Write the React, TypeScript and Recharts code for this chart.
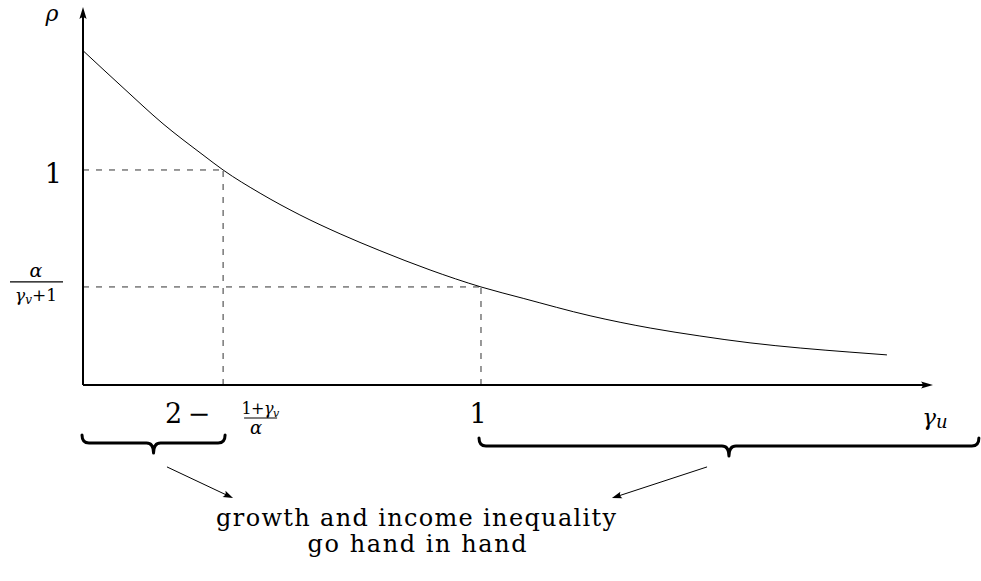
import React from 'react';
import { LineChart, Line, XAxis, YAxis, ReferenceLine, ReferenceDot } from 'recharts';

// gamma_u values (x) and rho values
const gammaU = [0, 0.1005, 0.201, 0.3015, 0.352, 0.445, 0.545, 0.646, 0.746, 0.872, 1.0, 1.106, 1.274, 1.425, 1.55, 1.676, 1.802, 1.927, 2.02];
const rhoVals = [1.555, 1.383, 1.215, 1.07, 1.0, 0.892, 0.791, 0.703, 0.625, 0.535, 0.456, 0.403, 0.322, 0.265, 0.228, 0.196, 0.172, 0.153, 0.14];
// marked points on the axes
const xMarks = [0.352, 1]; // 2 - (1+γv)/α , 1
const yMarks = [1, 0.456]; // 1 , α/(γv+1)
const axisMax = { x: 2.1357, y: 1.758 };

const data = gammaU.map((g, i) => ({ g, rho: rhoVals[i] }));

const SERIF = 'DejaVu Serif, Liberation Serif, serif';

function arrowShape(width: number, headLen: number, headHalf: number, color: string) {
  return (p: any) => {
    const { x1, y1, x2, y2 } = p;
    const dx = x2 - x1, dy = y2 - y1;
    const L = Math.hypot(dx, dy) || 1;
    const ux = dx / L, uy = dy / L;
    const nx = -uy, ny = ux;
    const bx = x2 - ux * headLen, by = y2 - uy * headLen;
    const cx = x2 - ux * headLen * 0.72, cy = y2 - uy * headLen * 0.72;
    return (
      <g>
        <line x1={x1} y1={y1} x2={cx} y2={cy} stroke={color} strokeWidth={width} />
        <path
          d={`M${x2},${y2} L${bx + nx * headHalf},${by + ny * headHalf} Q${cx},${cy} ${bx - nx * headHalf},${by - ny * headHalf} Z`}
          fill={color}
        />
      </g>
    );
  };
}

function braceShape(drop: number, depth: number, r: number) {
  return (p: any) => {
    const { x1, y1, x2 } = p;
    const y0 = y1;
    const h = y0 + drop;
    const tip = y0 + depth;
    const xm = (x1 + x2) / 2;
    const d = `M${x1},${y0} Q${x1},${h} ${x1 + r},${h} H${xm - r} Q${xm},${h} ${xm},${tip} Q${xm},${h} ${xm + r},${h} H${x2 - r} Q${x2},${h} ${x2},${y0}`;
    return <path d={d} fill="none" stroke="#000" strokeWidth={3} strokeLinecap="round" strokeLinejoin="round" />;
  };
}

function textShape(render: () => React.ReactNode) {
  return (p: any) => <g transform={`translate(${p.cx},${p.cy})`}>{render()}</g>;
}

const dash = { stroke: '#333', strokeWidth: 1, strokeDasharray: '6 7' };

export default function App() {
  return (
    <div style={{ position: 'absolute', left: 0, top: 0, width: 981, height: 581, background: '#fff' }}>
      <LineChart
        width={981}
        height={581}
        data={data}
        margin={{ top: 7, left: 83, right: 48, bottom: 196 }}
      >
        <XAxis type="number" dataKey="g" domain={[0, axisMax.x]} hide allowDataOverflow />
        <YAxis type="number" domain={[0, axisMax.y]} hide allowDataOverflow />

        {/* dashed guides */}
        <ReferenceLine segment={[{ x: 0, y: yMarks[0] }, { x: xMarks[0], y: yMarks[0] }]} {...dash} ifOverflow="visible" />
        <ReferenceLine segment={[{ x: xMarks[0], y: 0 }, { x: xMarks[0], y: yMarks[0] }]} {...dash} ifOverflow="visible" />
        <ReferenceLine segment={[{ x: 0, y: yMarks[1] }, { x: xMarks[1], y: yMarks[1] }]} {...dash} ifOverflow="visible" />
        <ReferenceLine segment={[{ x: xMarks[1], y: 0 }, { x: xMarks[1], y: yMarks[1] }]} {...dash} ifOverflow="visible" />

        <Line
          type="monotone"
          dataKey="rho"
          stroke="#000"
          strokeWidth={1}
          dot={false}
          activeDot={false}
          isAnimationActive={false}
        />

        {/* axes with arrows */}
        <ReferenceLine
          segment={[{ x: 0, y: 0 }, { x: axisMax.x, y: 0 }]}
          ifOverflow="visible"
          shape={arrowShape(2, 12, 3.6, '#000')}
        />
        <ReferenceLine
          segment={[{ x: 0, y: 0 }, { x: 0, y: axisMax.y }]}
          ifOverflow="visible"
          shape={arrowShape(2, 12, 3.6, '#000')}
        />

        {/* axis labels */}
        <ReferenceDot
          x={0}
          y={axisMax.y}
          r={0}
          ifOverflow="visible"
          shape={textShape(() => (
            <text x={-31} y={14} textAnchor="middle" fontFamily={SERIF} fontStyle="italic" fontSize={22}>ρ</text>
          ))}
        />
        <ReferenceDot
          x={axisMax.x}
          y={0}
          r={0}
          ifOverflow="visible"
          shape={textShape(() => (
            <text x={2} y={40} textAnchor="middle" fontFamily={SERIF} fontStyle="italic" fontSize={23}>
              γ<tspan fontSize={18} dy={3}>u</tspan>
            </text>
          ))}
        />

        {/* y marks */}
        <ReferenceDot
          x={0}
          y={yMarks[0]}
          r={0}
          ifOverflow="visible"
          shape={textShape(() => (
            <text x={-21} y={13} textAnchor="end" fontFamily={SERIF} fontSize={27}>1</text>
          ))}
        />
        <ReferenceDot
          x={0}
          y={yMarks[1]}
          r={0}
          ifOverflow="visible"
          shape={textShape(() => (
            <g fontFamily={SERIF}>
              <text x={-47} y={-10} textAnchor="middle" fontStyle="italic" fontSize={19}>α</text>
              <line x1={-73} x2={-20} y1={-5} y2={-5} stroke="#000" strokeWidth={1.2} />
              <text x={-47} y={14} textAnchor="middle" fontSize={17}>
                <tspan fontStyle="italic">γ</tspan>
                <tspan fontStyle="italic" fontSize={12} dy={3}>v</tspan>
                <tspan dy={-3}>+1</tspan>
              </text>
            </g>
          ))}
        />

        {/* x marks */}
        <ReferenceDot
          x={xMarks[0]}
          y={0}
          r={0}
          ifOverflow="visible"
          shape={textShape(() => (
            <g fontFamily={SERIF}>
              <text x={-41} y={38} textAnchor="end" fontSize={27}>2</text>
              <text x={-24} y={38} textAnchor="middle" fontSize={27}>−</text>
              <text x={37} y={29} textAnchor="middle" fontSize={16} letterSpacing={-0.5}>
                1+<tspan fontStyle="italic">γ</tspan>
                <tspan fontStyle="italic" fontSize={11} dy={3}>v</tspan>
              </text>
              <line x1={21} x2={54} y1={33} y2={33} stroke="#000" strokeWidth={1.2} />
              <text x={33} y={49} textAnchor="middle" fontStyle="italic" fontSize={18}>α</text>
            </g>
          ))}
        />
        <ReferenceDot
          x={xMarks[1]}
          y={0}
          r={0}
          ifOverflow="visible"
          shape={textShape(() => (
            <text x={-3} y={38} textAnchor="middle" fontFamily={SERIF} fontSize={27}>1</text>
          ))}
        />

        {/* braces */}
        <ReferenceLine
          segment={[{ x: -0.0025, y: -0.2326 }, { x: 0.357, y: -0.2326 }]}
          ifOverflow="visible"
          shape={braceShape(8, 18, 7)}
        />
        <ReferenceLine
          segment={[{ x: 0.995, y: -0.2465 }, { x: 2.251, y: -0.2465 }]}
          ifOverflow="visible"
          shape={braceShape(8, 18, 7)}
        />

        {/* pointing arrows */}
        <ReferenceLine
          segment={[{ x: 0.211, y: -0.381 }, { x: 0.377, y: -0.526 }]}
          ifOverflow="visible"
          shape={arrowShape(1, 10, 3.5, '#000')}
        />
        <ReferenceLine
          segment={[{ x: 1.568, y: -0.381 }, { x: 1.329, y: -0.526 }]}
          ifOverflow="visible"
          shape={arrowShape(1, 10, 3.5, '#000')}
        />

        {/* caption */}
        <ReferenceDot
          x={0.837}
          y={-0.656}
          r={0}
          ifOverflow="visible"
          shape={textShape(() => (
            <g fontFamily={SERIF} fontSize={24} textAnchor="middle">
              <text x={0} y={0} textLength={400} lengthAdjust="spacing">growth and income inequality</text>
              <text x={1} y={26} textLength={219} lengthAdjust="spacing">go hand in hand</text>
            </g>
          ))}
        />
      </LineChart>
    </div>
  );
}
